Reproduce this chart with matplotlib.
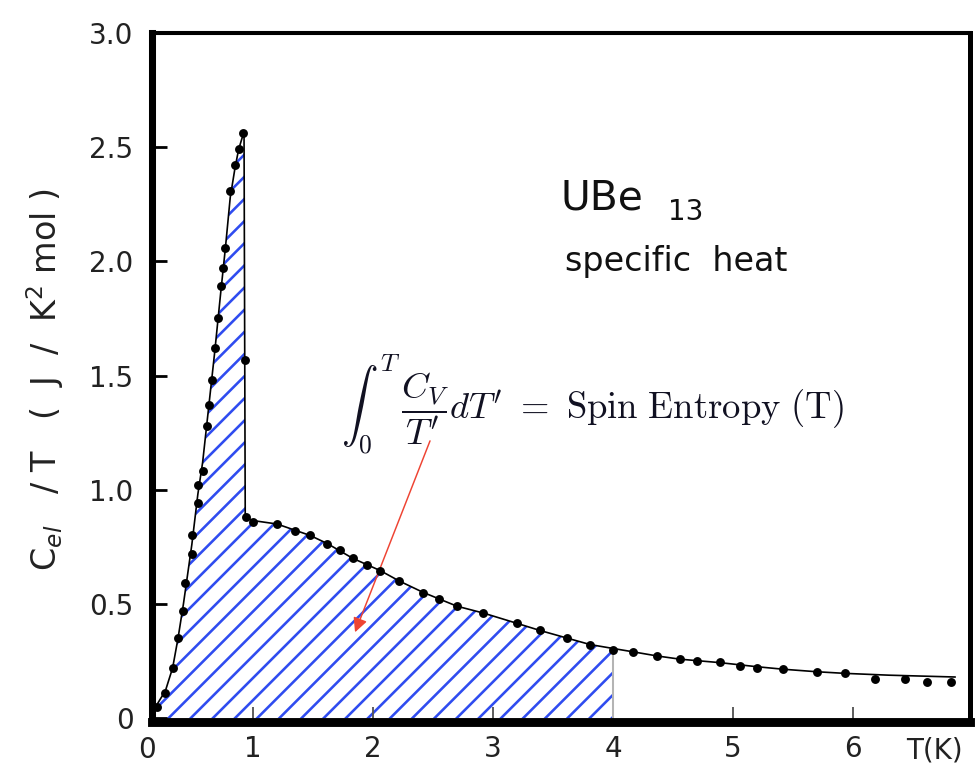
import matplotlib
matplotlib.use("Agg")
import matplotlib.pyplot as plt
import numpy as np

# UBe13: electronic specific heat divided by temperature, C_el/T in J/(K^2 mol)
T_meas = [0.20, 0.27, 0.33, 0.375, 0.42, 0.43, 0.49, 0.49, 0.54, 0.54, 0.58, 0.62,
          0.63, 0.66, 0.68, 0.71, 0.73, 0.75, 0.77, 0.81, 0.85, 0.88, 0.92, 0.93,
          0.94, 1.0, 1.2, 1.35, 1.475, 1.62, 1.725, 1.83, 1.95, 2.06, 2.22, 2.42,
          2.55, 2.70, 2.92, 3.2, 3.39, 3.62, 3.81, 4.0, 4.17, 4.37, 4.56, 4.7,
          4.89, 5.06, 5.2, 5.42, 5.7, 5.93, 6.18, 6.43, 6.62, 6.82]
C_meas = [0.05, 0.11, 0.22, 0.35, 0.47, 0.59, 0.72, 0.80, 0.94, 1.02, 1.08, 1.28,
          1.37, 1.48, 1.62, 1.75, 1.89, 1.97, 2.06, 2.31, 2.42, 2.49, 2.56, 1.57,
          0.88, 0.86, 0.85, 0.82, 0.80, 0.764, 0.734, 0.70, 0.67, 0.646, 0.60, 0.55,
          0.52, 0.49, 0.46, 0.415, 0.384, 0.35, 0.32, 0.30, 0.29, 0.27, 0.26, 0.25,
          0.245, 0.23, 0.22, 0.214, 0.20, 0.196, 0.17, 0.17, 0.16, 0.16]

# smooth guide curve through the measurements
T_line = [0.16, 0.20, 0.27, 0.33, 0.375, 0.42, 0.49, 0.54, 0.58, 0.63, 0.68, 0.73,
          0.77, 0.81, 0.85, 0.88, 0.92, 0.925, 0.935, 1.0, 1.2, 1.475, 1.62, 1.83,
          2.06, 2.22, 2.42, 2.70, 2.92, 3.2, 3.39, 3.62, 3.81, 4.0, 4.17, 4.37,
          4.56, 4.89, 5.2, 5.42, 5.7, 5.93, 6.3, 6.85]
C_line = [0.04, 0.06, 0.12, 0.22, 0.35, 0.50, 0.76, 0.98, 1.12, 1.36, 1.60, 1.86,
          2.06, 2.28, 2.41, 2.49, 2.56, 2.56, 0.88, 0.865, 0.85, 0.80, 0.764, 0.70,
          0.646, 0.60, 0.55, 0.49, 0.46, 0.415, 0.384, 0.35, 0.322, 0.305, 0.29, 0.272,
          0.258, 0.243, 0.225, 0.214, 0.203, 0.196, 0.188, 0.18]

entropy_limit = 4.0

x_ticks = [1, 2, 3, 4, 5, 6]
x_ticklabels = ["1", "2", "3", "4", "5", "6"]
y_ticks = [0, 0.5, 1.0, 1.5, 2.0, 2.5, 3.0]
y_ticklabels = ["0", "0.5", "1.0", "1.5", "2.0", "2.5", "3.0"]

hatch_blue = "#2f4cf0"
DPI = 133.3334
plt.rcParams["hatch.linewidth"] = 1.4
plt.rcParams["hatch.color"] = hatch_blue
plt.rcParams["font.family"] = ["DejaVu Sans"]

fig = plt.figure(figsize=(7.32, 5.82), dpi=DPI)
ax = fig.add_axes([152 / 976, 54 / 776, 818 / 976, 689 / 776])
ax.set_xlim(0.158, 6.975)
ax.set_ylim(-0.017, 2.99)

# hatched area under the curve up to T = 4 K (spin entropy integral)
T_arr = np.array(T_line)
C_arr = np.array(C_line)
sel = T_arr <= entropy_limit
ax.fill_between(T_arr[sel], 0, C_arr[sel], facecolor="none", edgecolor=hatch_blue,
                hatch="//", linewidth=0, zorder=1)
ax.plot([entropy_limit, entropy_limit], [0, np.interp(entropy_limit, T_arr, C_arr)],
        color="#b4b4b4", lw=1.1, zorder=2)

ax.plot(T_line, C_line, color="black", lw=0.9, zorder=3)
ax.plot(T_meas, C_meas, "o", color="black", ms=3.8, zorder=4)

# spines
for side, lw in (("left", 3.8), ("bottom", 4.8), ("top", 2.2), ("right", 2.7)):
    ax.spines[side].set_linewidth(lw)
    ax.spines[side].set_color("black")

ax.set_xticks(x_ticks)
ax.set_xticklabels(x_ticklabels)
ax.set_yticks(y_ticks)
ax.set_yticklabels(y_ticklabels)
ax.set_yticks(np.arange(0.25, 3.0, 0.5), minor=True)
ax.tick_params(axis="y", which="major", direction="in", length=8, width=1.5,
               labelsize=15, pad=10, labelcolor="#222222")
ax.tick_params(axis="y", which="minor", direction="in", length=2, width=1.0)
ax.tick_params(axis="x", which="major", direction="in", length=8, width=1.0,
               color="#555555", labelsize=15, pad=7, labelcolor="#222222")

# origin label and unit label on the temperature axis
ax.text(0.12, -0.021, "0", transform=ax.get_xaxis_transform(), ha="center",
        va="top", fontsize=15, color="#222222")
ax.text(6.68, -0.021, "T(K)", transform=ax.get_xaxis_transform(), ha="center",
        va="top", fontsize=15, color="#222222")

fig.text(45 / 976, 1 - 380 / 776, r"C$_{el}$   / T   (  J  /  K$^2$ mol )", rotation=90,
         ha="center", va="center", fontsize=18, color="#222222")

ax.text(3.56, 2.227, "UBe", fontsize=22, color="#111111", ha="left", va="baseline")
ax.text(4.46, 2.18, "13", fontsize=15, color="#111111", ha="left", va="baseline")
ax.text(3.60, 1.956, "specific  heat", fontsize=18, color="#111111", ha="left",
        va="baseline")

ax.text(1.73, 1.37,
        r"$\int_0^T \, \dfrac{C_V}{T^{\prime}} dT^{\prime} \ = \ \mathrm{Spin\ Entropy\ (T)}$",
        math_fontfamily="cm", fontsize=19.8, color="#111122", ha="left", va="center")

ax.annotate("", xy=(1.85, 0.376), xytext=(2.475, 1.214),
            arrowprops=dict(arrowstyle="-|>", color="#ee4433", lw=0.8,
                            mutation_scale=16, shrinkA=0, shrinkB=0))

fig.savefig("out.png", dpi=DPI)
